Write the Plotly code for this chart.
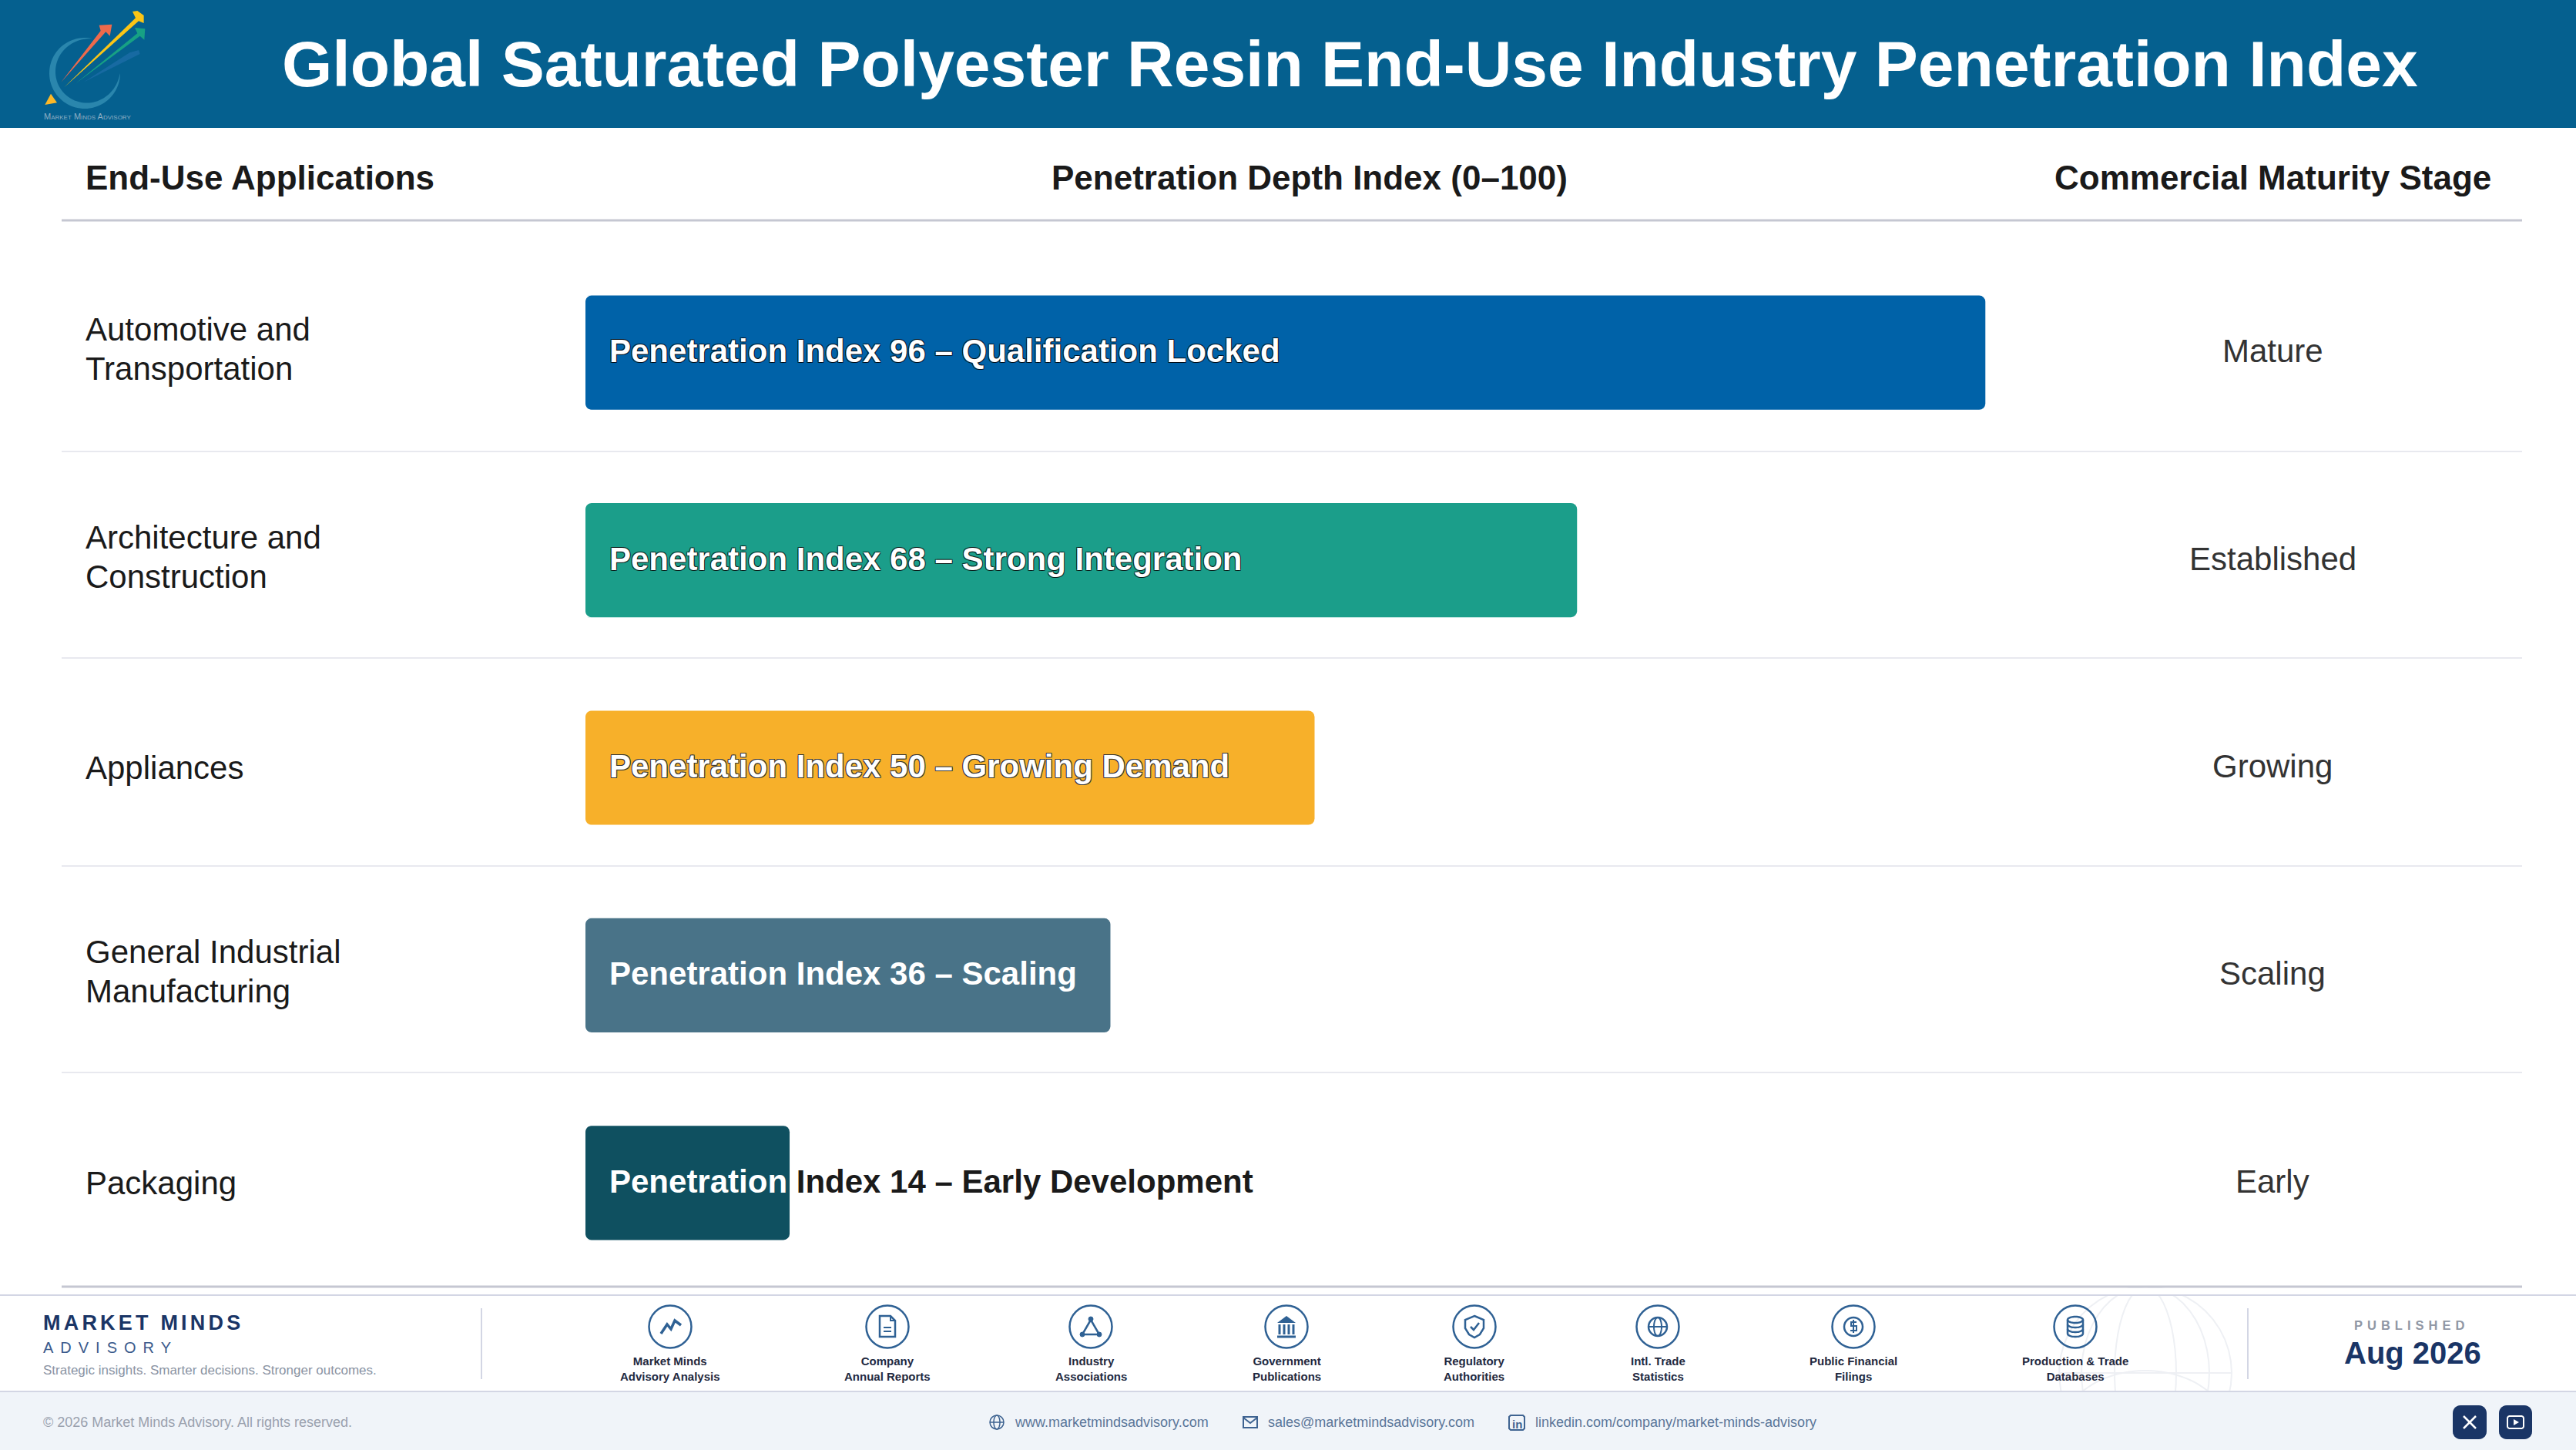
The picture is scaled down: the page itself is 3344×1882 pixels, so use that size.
import numpy as np
import plotly.graph_objects as go

W, H = 3344, 1882

# --- data ---
applications = [
    "Automotive and<br>Transportation",
    "Architecture and<br>Construction",
    "Appliances",
    "General Industrial<br>Manufacturing",
    "Packaging",
]
penetration_index = [96, 68, 50, 36, 14]
stage_phrases = [
    "Qualification Locked",
    "Strong Integration",
    "Growing Demand",
    "Scaling",
    "Early Development",
]
maturity_stages = ["Mature", "Established", "Growing", "Scaling", "Early"]
bar_colors = ["#0062A8", "#1B9E8A", "#F7B02A", "#497388", "#0F5060"]

column_headers = [
    "End-Use Applications",
    "Penetration Depth Index (0–100)",
    "Commercial Maturity Stage",
]
title_text = "Global Saturated Polyester Resin End-Use Industry Penetration Index"

source_labels = [
    "Market Minds<br>Advisory Analysis",
    "Company<br>Annual Reports",
    "Industry<br>Associations",
    "Government<br>Publications",
    "Regulatory<br>Authorities",
    "Intl. Trade<br>Statistics",
    "Public Financial<br>Filings",
    "Production & Trade<br>Databases",
]
source_x = [870, 1152, 1416, 1670, 1914, 2152, 2406, 2694]

FONT = "Liberation Sans"
NAVY = "#1A3566"
ICON = "#2F6194"
RULE = "#C5C7D2"
BAND = "#D3D6E4"

# plot area in pixels
PLOT_LEFT, PLOT_RIGHT = 760, 2653
PLOT_TOP, PLOT_BOTTOM = 323, 1670
BAR_WIDTH = 0.55


def fx(px):
    return px / W


def fy(py):
    return 1 - py / H


def to_path(pts, close=False):
    s = "M" + " L".join(f"{fx(x):.6f},{fy(y):.6f}" for x, y in pts)
    return s + (" Z" if close else "")


def arc(cx, cy, rx, ry, a0=0, a1=360, n=48):
    t = np.radians(np.linspace(a0, a1, n))
    return list(zip(cx + rx * np.cos(t), cy + ry * np.sin(t)))


shapes = []
annotations = []


def add_rect(x0, y0, x1, y1, color):
    shapes.append(dict(type="rect", xref="paper", yref="paper", x0=fx(x0), x1=fx(x1),
                       y0=fy(y0), y1=fy(y1), fillcolor=color, line_width=0, layer="below"))


def add_line(pts, color, width, close=False, fill=None):
    shapes.append(dict(type="path", xref="paper", yref="paper", path=to_path(pts, close),
                       line=dict(color=color, width=width), fillcolor=fill, layer="below"))


def add_fill(pts, color, opacity=1, layer="below"):
    shapes.append(dict(type="path", xref="paper", yref="paper", path=to_path(pts, True),
                       line_width=0, fillcolor=color, opacity=opacity, layer=layer))


def add_circle(cx, cy, r, color, width=2.5, fill=None):
    shapes.append(dict(type="circle", xref="paper", yref="paper", x0=fx(cx - r), x1=fx(cx + r),
                       y0=fy(cy + r), y1=fy(cy - r), line=dict(color=color, width=width),
                       fillcolor=fill, layer="below"))


def note(px, py, text, size, color, weight=400, xanchor="left", align=None, **font_extra):
    annotations.append(dict(xref="paper", yref="paper", x=fx(px), y=fy(py), text=text,
                            showarrow=False, xanchor=xanchor, yanchor="middle",
                            align=align or xanchor, borderpad=0, borderwidth=0,
                            font=dict(family=FONT, size=size, color=color, weight=weight, **font_extra)))


# --- globe watermark, the bands drawn afterwards trim it to the footer ---
GX, GY, GR = 2785, 1782, 112
for rx in [GR, 83, 40]:
    add_line(arc(GX, GY, rx, GR), "#EEF0F4", 2, close=True)
add_line([(GX - GR, GY), (GX + GR, GY)], "#EEF0F4", 2)
add_line(arc(GX, GY + 75, 108, 78, 195, 345), "#EEF0F4", 2)
add_rect(0, 1672, W, 1681, "white")
add_rect(0, 1806, W, H, "#F0F4F9")

# --- header band ---
add_rect(0, 0, W, 166, "#05608F")


# logo, measured from a 3x crop starting at x=40
def z(points):
    return [(40 + a / 3, b / 3) for a, b in points]


# swoosh runs counter-clockwise from the top to the right side
sweep = np.radians(np.linspace(-78, -360, 70))
outer = [(210 + 138 * np.cos(a), 285 + 138 * np.sin(a)) for a in sweep]
thick = 26 * np.sin(np.linspace(0, np.pi, 70)) ** 0.8
inner = [(210 + (138 - d) * np.cos(a), 285 + (138 - d) * np.sin(a)) for a, d in zip(sweep, thick)]
add_fill(z(outer + inner[::-1]), "#2A86AD")
add_fill(z([(205, 320), (385, 205), (420, 195), (425, 210)]), "#1E6EA8", 0.75)
add_fill(z([(175, 325), (415, 130), (405, 108), (445, 112), (442, 155), (425, 140)]), "#17A184")
add_fill(z([(118, 320), (272, 120), (266, 98), (316, 95), (308, 140), (292, 124)]), "#EE6A4C")
add_fill(z([(130, 340), (408, 70), (396, 45), (415, 42), (440, 60), (440, 90), (420, 82)]), "#FBC516")
add_fill(z([(55, 408), (78, 365), (102, 400)]), "#FDB827")
note(57, 151, "Market Minds Advisory", 11, "#8FAFC4", variant="small-caps")

note(1752, 83, title_text, 84, "white", 700, xanchor="center")

# --- table header ---
note(111, 231, column_headers[0], 44, "#1A1A1A", 700)
note(1700, 231, column_headers[1], 44, "#1A1A1A", 700, xanchor="center")
note(2950, 231, column_headers[2], 44, "#1A1A1A", 700, xanchor="center")
add_line([(80, 286), (3274, 286)], RULE, 3)

# --- footer rules and text ---
add_line([(0, 1681), (W, 1681)], BAND, 2)
add_line([(0, 1806), (W, 1806)], BAND, 2)
add_line([(625, 1698), (625, 1790)], BAND, 2)
add_line([(2918, 1698), (2918, 1790)], BAND, 2)

note(56, 1717, "MARKET MINDS", 27, NAVY, 700)
note(56, 1749, "ADVISORY", 20, "#3A5A8C")
note(56, 1778, "Strategic insights. Smarter decisions. Stronger outcomes.", 17, "#8A93A3")
note(56, 1846, "© 2026 Market Minds Advisory. All rights reserved.", 18, "#9AA1AE")
note(3056, 1720, "PUBLISHED", 16.5, "#9097A5", 700)
note(3132, 1756, "Aug 2026", 40, NAVY, 700, xanchor="center")

note(1317, 1846, "www.marketmindsadvisory.com", 18, "#5A7699")
note(1646, 1846, "sales@marketmindsadvisory.com", 18, "#5A7699")
note(1993, 1846, "linkedin.com/company/market-minds-advisory", 18, "#5A7699")

for cx, label in zip(source_x, source_labels):
    add_circle(cx, 1722, 27.5, ICON)
    note(cx, 1776, label, 15, "#22293F", 700, xanchor="center")

# source icons
cy = 1722
c = source_x[0]
add_line([(c - 12, cy + 9), (c - 4, cy - 3), (c + 1, cy + 3), (c + 6, cy - 8), (c + 14, cy - 2)], ICON, 3.5)
c = source_x[1]
add_line([(c - 10, cy - 14), (c + 4, cy - 14), (c + 10, cy - 8), (c + 10, cy + 13), (c - 10, cy + 13)], ICON, 2.5, close=True)
add_line([(c + 4, cy - 14), (c + 4, cy - 8), (c + 10, cy - 8)], ICON, 2)
add_line([(c - 5, cy + 1), (c + 5, cy + 1)], ICON, 2)
add_line([(c - 5, cy + 6), (c + 5, cy + 6)], ICON, 2)
c = source_x[2]
add_line([(c, cy - 9), (c - 11, cy + 10), (c + 11, cy + 10)], ICON, 2.5, close=True)
for dx, dy in [(0, -10), (-11, 10), (11, 10)]:
    add_circle(c + dx, cy + dy, 3, ICON, 1, ICON)
c = source_x[3]
add_fill([(c, cy - 14), (c - 12, cy - 5), (c + 12, cy - 5)], ICON)
for dx in [-9, -3, 3, 9]:
    add_line([(c + dx, cy - 3), (c + dx, cy + 10)], ICON, 3)
add_line([(c - 12, cy + 13), (c + 12, cy + 13)], ICON, 3)
c = source_x[4]
add_line([(c, cy - 14), (c + 12, cy - 9), (c + 12, cy + 2), (c + 7, cy + 10), (c, cy + 14),
          (c - 7, cy + 10), (c - 12, cy + 2), (c - 12, cy - 9)], ICON, 2.5, close=True)
add_line([(c - 5, cy), (c - 1, cy + 4), (c + 6, cy - 5)], ICON, 2.5)
c = source_x[5]
add_circle(c, cy, 12, ICON)
add_line(arc(c, cy, 5, 12), ICON, 2, close=True)
add_line([(c - 12, cy), (c + 12, cy)], ICON, 2)
c = source_x[6]
add_circle(c, cy, 12, ICON)
add_line([(c + 4, cy - 6), (c - 3, cy - 6), (c - 3, cy - 1), (c + 4, cy - 1), (c + 4, cy + 5), (c - 4, cy + 5)], ICON, 2)
add_line([(c, cy - 9), (c, cy + 8)], ICON, 2)
c = source_x[7]
add_line(arc(c, cy - 9, 10, 4), ICON, 2.5, close=True)
add_line(arc(c, cy - 3, 10, 4, 0, 180, 20), ICON, 2.5)
add_line(arc(c, cy + 3, 10, 4, 0, 180, 20), ICON, 2.5)
add_line(arc(c, cy + 9, 10, 4, 0, 180, 20), ICON, 2.5)
add_line([(c - 10, cy - 9), (c - 10, cy + 9)], ICON, 2.5)
add_line([(c + 10, cy - 9), (c + 10, cy + 9)], ICON, 2.5)

# contact icons
add_circle(1294, 1846, 9, "#3E6391", 1.5)
add_line(arc(1294, 1846, 4, 9), "#3E6391", 1.5, close=True)
add_line([(1285, 1846), (1303, 1846)], "#3E6391", 1.5)
add_line([(1614, 1839), (1632, 1839), (1632, 1853), (1614, 1853)], "#3E6391", 2, close=True)
add_line([(1614, 1840), (1623, 1847), (1632, 1840)], "#3E6391", 2)
add_line([(1961, 1837), (1977, 1837), (1979, 1839), (1979, 1854), (1977, 1856), (1961, 1856),
          (1959, 1854), (1959, 1839)], "#3E6391", 2, close=True)
note(1969, 1848, "in", 15, "#3E6391", 700, xanchor="center")


# social buttons
def rounded(x0, y0, x1, y1, r):
    return (arc(x0 + r, y0 + r, r, r, 180, 270, 8) + arc(x1 - r, y0 + r, r, r, 270, 360, 8)
            + arc(x1 - r, y1 - r, r, r, 0, 90, 8) + arc(x0 + r, y1 - r, r, r, 90, 180, 8))


add_fill(rounded(3184, 1824, 3228, 1868, 10), NAVY)
add_fill(rounded(3244, 1824, 3287, 1868, 10), NAVY)
add_line([(3198, 1838), (3214, 1854)], "white", 2.5)
add_line([(3214, 1838), (3198, 1854)], "white", 2.5)
add_line(rounded(3255, 1838, 3276, 1854, 3), "white", 2, close=True)
add_fill([(3263, 1842), (3270, 1846), (3263, 1850)], "white")

# --- table rows ---
for py in [586, 854, 1124, 1392]:
    add_line([(80, py), (3274, py)], "#E8E9EF", 2)
add_line([(80, PLOT_BOTTOM), (3274, PLOT_BOTTOM)], RULE, 3)

row_px = (PLOT_BOTTOM - PLOT_TOP) / len(applications)
CORNER = 8

for i, (app, stage) in enumerate(zip(applications, maturity_stages)):
    lines = app.split("<br>")
    shifts = [30, -21] if len(lines) == 2 else [0]
    for line, shift in zip(lines, shifts):
        annotations.append(dict(xref="paper", yref="y", x=fx(111), y=i, yshift=shift, text=line,
                                showarrow=False, xanchor="left", yanchor="middle", borderpad=0,
                                borderwidth=0, font=dict(family=FONT, size=42, color="#1A1A1A")))
    annotations.append(dict(xref="paper", yref="y", x=fx(2950), y=i, yshift=2, text=stage, showarrow=False,
                            xanchor="center", yanchor="middle", borderpad=0, borderwidth=0,
                            font=dict(family=FONT, size=42, color="#333333")))

    # plotly only rounds the tip of a bar, so trim the two corners at the base
    centre = PLOT_TOP + (i + 0.5) * row_px
    half = BAR_WIDTH * row_px / 2
    top, bottom = centre - half, centre + half
    add_fill([(PLOT_LEFT - 1, top - 1)] + arc(PLOT_LEFT + CORNER, top + CORNER, CORNER, CORNER, 270, 180, 10),
             "white", layer="above")
    add_fill([(PLOT_LEFT - 1, bottom + 1)] + arc(PLOT_LEFT + CORNER, bottom - CORNER, CORNER, CORNER, 180, 90, 10),
             "white", layer="above")

THIN = "rgba(0,0,0,0.65)"
STRONG = "#333333"
outline_colors = [THIN, THIN, STRONG, None, None]

for i, (val, phrase, edge) in enumerate(zip(penetration_index, stage_phrases, outline_colors)):
    label = f"Penetration Index {val} – {phrase}"
    font = dict(family=FONT, size=42, color="white", weight=700)
    if val < 20:
        first, rest = label.split(" ", 1)
        label = f'<span style="color:white">{first}</span> <span style="color:#1A1A1A">{rest}</span>'
    if edge:
        font["shadow"] = f"-1px -1px 0 {edge}, 1px -1px 0 {edge}, -1px 1px 0 {edge}, 1px 1px 0 {edge}"
    annotations.append(dict(xref="x", yref="y", x=0, y=i, xshift=31, yshift=2, text=label, showarrow=False,
                            xanchor="left", yanchor="middle", borderpad=0, borderwidth=0, font=font))

fig = go.Figure(go.Bar(
    x=penetration_index,
    y=applications,
    orientation="h",
    width=BAR_WIDTH,
    marker=dict(color=bar_colors, line_width=0, cornerradius=CORNER),
    hoverinfo="skip",
))

fig.update_layout(
    width=W,
    height=H,
    margin=dict(l=0, r=0, t=0, b=0),
    paper_bgcolor="white",
    plot_bgcolor="white",
    showlegend=False,
    font=dict(family=FONT),
    shapes=shapes,
    annotations=annotations,
    xaxis=dict(domain=[fx(PLOT_LEFT), fx(PLOT_RIGHT)], range=[0, 100], visible=False),
    yaxis=dict(domain=[fy(PLOT_BOTTOM), fy(PLOT_TOP)], range=[4.5, -0.5], visible=False),
)

# letter spacing is not a plotly font option, set it on the rendered text
post = """
document.body.style.margin = '0';
var spaced = {'MARKET MINDS': '4.2px', 'ADVISORY': '9px', 'PUBLISHED': '6px'};
document.querySelectorAll('.annotation-text').forEach(function (t) {
  if (spaced[t.textContent]) { t.style.letterSpacing = spaced[t.textContent]; }
});
"""

fig.write_html("out.html", post_script=post, config={"displayModeBar": False})
